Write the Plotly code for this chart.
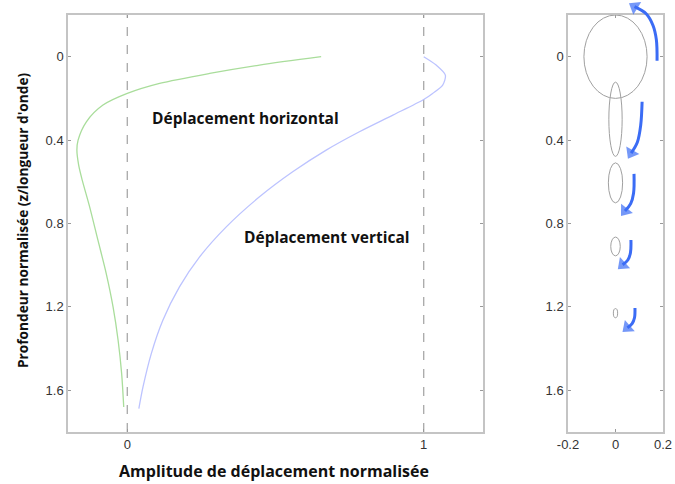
import plotly.graph_objects as go

# ---- data: left panel (normalised displacement amplitude vs depth) ----
horiz_z = [0.0, 0.04, 0.08, 0.128, 0.176, 0.232, 0.312, 0.4, 0.448, 0.52, 0.592, 0.72, 0.88, 1.04, 1.2, 1.36, 1.52, 1.68]
horiz_amp = [0.654, 0.446, 0.278, 0.109, 0.0, -0.082, -0.138, -0.166, -0.17, -0.164, -0.152, -0.127, -0.099, -0.071, -0.048, -0.031, -0.019, -0.012]

vert_z = [0.0, 0.04, 0.088, 0.136, 0.176, 0.205, 0.28, 0.36, 0.448, 0.552, 0.672, 0.816, 0.96, 1.104, 1.264, 1.424, 1.584, 1.688]
vert_amp = [1.0, 1.042, 1.073, 1.064, 1.03, 1.0, 0.896, 0.783, 0.671, 0.558, 0.446, 0.334, 0.244, 0.176, 0.12, 0.081, 0.053, 0.039]

# ---- data: right panel (particle orbits) ----
orbit_z = [0.0, 0.30, 0.605, 0.91, 1.23]
orbit_rx = [0.133, 0.028, 0.03, 0.02, 0.009]
orbit_ry = [0.2, 0.178, 0.096, 0.045, 0.022]

# rotation arrows (x, z) paths, tip last
arrow_x = [
    [0.175, 0.172, 0.158, 0.130, 0.080],
    [0.112, 0.106, 0.092, 0.066],
    [0.078, 0.076, 0.064, 0.040],
    [0.065, 0.063, 0.052, 0.030],
    [0.082, 0.080, 0.070, 0.050],
]
arrow_z = [
    [0.019, -0.082, -0.150, -0.205, -0.240],
    [0.216, 0.33, 0.41, 0.462],
    [0.562, 0.655, 0.705, 0.74],
    [0.879, 0.94, 0.975, 0.998],
    [1.205, 1.252, 1.28, 1.30],
]

y_ticks = [0, 0.4, 0.8, 1.2, 1.6]
y_ticklabels = ["0", "0.4", "0.8", "1.2", "1.6"]
x1_ticks = [0, 1]
x2_ticks = [-0.2, 0, 0.2]

GREEN = "#a9dd9b"
BLUE = "#bcc3ff"
ARROW = "#3b6cf5"
FRAME = "#c4c4c4"
TICKFONT = dict(family="Liberation Sans, Arial", size=13, color="#333333")
BOLD = "Open Sans, DejaVu Sans, sans-serif"

Y_DOM = [0.1074, 0.969]
Y_RANGE = [1.8, -0.2]
# overlay axis for the arrows: same scale as y2 but extended up to the top of the page
px_per_unit = (Y_DOM[1] - Y_DOM[0]) * 484 / (Y_RANGE[0] - Y_RANGE[1])
Y3_RANGE = [1.8, Y_RANGE[1] - (1 - Y_DOM[1]) * 484 / px_per_unit]

fig = go.Figure()
fig.add_trace(go.Scatter(x=horiz_amp, y=horiz_z, mode="lines",
                         line=dict(color=GREEN, width=1.3, shape="spline", smoothing=0.8),
                         xaxis="x", yaxis="y", hoverinfo="skip"))
fig.add_trace(go.Scatter(x=vert_amp, y=vert_z, mode="lines",
                         line=dict(color=BLUE, width=1.3, shape="spline", smoothing=0.8),
                         xaxis="x", yaxis="y", hoverinfo="skip"))

for ax_, az_ in zip(arrow_x, arrow_z):
    n = len(ax_)
    fig.add_trace(go.Scatter(
        x=ax_, y=az_, mode="lines+markers", xaxis="x2", yaxis="y3", cliponaxis=False,
        line=dict(color=ARROW, width=3, shape="spline"),
        marker=dict(symbol="triangle-up", angleref="previous", color=ARROW,
                    size=[0] * (n - 1) + [13], line=dict(width=0)),
        hoverinfo="skip"))

shapes = []
# dashed reference lines in left panel
for xv in x1_ticks:
    shapes.append(dict(type="line", xref="x", yref="paper", x0=xv, x1=xv, y0=Y_DOM[0], y1=Y_DOM[1],
                       line=dict(color="#a8a8a8", width=1.3, dash="dash"), layer="below"))
for zc, rx, ry in zip(orbit_z, orbit_rx, orbit_ry):
    shapes.append(dict(type="circle", xref="x2", yref="y2", x0=-rx, x1=rx, y0=zc - ry, y1=zc + ry,
                       line=dict(color="#a0a0a0", width=1)))

annotations = [
    dict(text="<b>Déplacement horizontal</b>", x=150 / 675, y=1 - 118 / 484, xref="paper", yref="paper",
         showarrow=False, xanchor="left", yanchor="middle", font=dict(family=BOLD, size=15.5, color="#111")),
    dict(text="<b>Déplacement vertical</b>", x=242 / 675, y=1 - 237 / 484, xref="paper", yref="paper",
         showarrow=False, xanchor="left", yanchor="middle", font=dict(family=BOLD, size=15.5, color="#111")),
    dict(text="<b>Amplitude de déplacement normalisée</b>", x=274 / 675, y=1 - 471 / 484, xref="paper",
         yref="paper", showarrow=False, xanchor="center", yanchor="middle",
         font=dict(family=BOLD, size=16, color="#111")),
    dict(text="<b>Profondeur normalisée (z/longueur d'onde)</b>", x=22 / 675, y=1 - 220 / 484, xref="paper",
         yref="paper", showarrow=False, textangle=-90, xanchor="center", yanchor="middle",
         font=dict(family=BOLD, size=13.7, color="#111")),
]

axis_common = dict(showgrid=False, zeroline=False, showline=True, linecolor=FRAME, linewidth=1.5, mirror="ticks",
                   ticks="inside", ticklen=3, tickcolor="#999", tickfont=TICKFONT, automargin=False)

fig.update_layout(
    width=675, height=484, margin=dict(l=0, r=0, t=0, b=0),
    paper_bgcolor="white", plot_bgcolor="rgba(0,0,0,0)", showlegend=False,
    xaxis=dict(domain=[68 / 675, 483 / 675], range=[-0.2, 1.2], tickvals=x1_ticks, ticktext=["0", "1"],
               anchor="y", **axis_common),
    yaxis=dict(domain=Y_DOM, range=Y_RANGE, tickvals=y_ticks, ticktext=y_ticklabels,
               anchor="x", **axis_common),
    xaxis2=dict(domain=[568 / 675, 663 / 675], range=[-0.2, 0.2], tickvals=x2_ticks, ticktext=["-0.2", "0", "0.2"],
                anchor="y2", **axis_common),
    yaxis2=dict(domain=Y_DOM, range=Y_RANGE, tickvals=y_ticks, ticktext=y_ticklabels,
                anchor="x2", **axis_common),
    yaxis3=dict(domain=[Y_DOM[0], 1.0], range=Y3_RANGE, visible=False, anchor="x2", automargin=False,
                showgrid=False, zeroline=False),
    shapes=shapes, annotations=annotations,
)

fig.write_html("out.html")
